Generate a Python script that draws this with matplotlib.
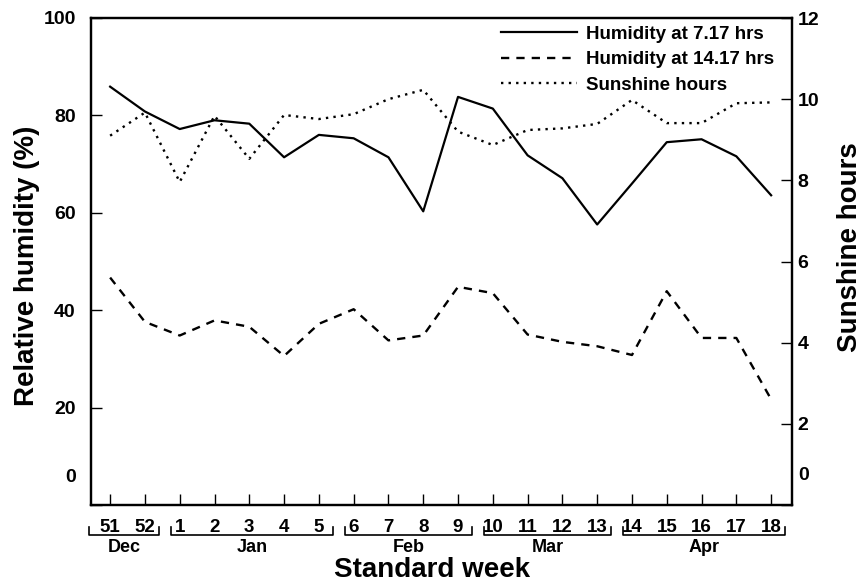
import matplotlib
matplotlib.use("Agg")
import matplotlib.pyplot as plt
import matplotlib.transforms as mtransforms
import numpy as np

plt.rcParams['font.family'] = ['Liberation Sans', 'DejaVu Sans']
plt.rcParams['font.weight'] = 'bold'

# ---- data ----
weeks = ['51', '52', '1', '2', '3', '4', '5', '6', '7', '8', '9',
         '10', '11', '12', '13', '14', '15', '16', '17', '18']
hum_morning = [85.9, 80.8, 77.2, 79.0, 78.3, 71.4, 76.0, 75.3, 71.4, 60.3,
               83.8, 81.4, 71.8, 67.1, 57.6, 66.0, 74.5, 75.1, 71.6, 63.6]
hum_afternoon = [46.7, 37.6, 34.8, 37.9, 36.6, 30.6, 37.2, 40.2, 33.8, 34.8,
                 44.8, 43.5, 35.0, 33.5, 32.6, 30.8, 43.9, 34.3, 34.3, 21.7]
sunshine = [9.10, 9.67, 7.96, 9.59, 8.53, 9.61, 9.51, 9.63, 10.0, 10.23,
            9.20, 8.87, 9.24, 9.28, 9.39, 9.98, 9.41, 9.41, 9.90, 9.92]
months = ['Dec', 'Jan', 'Feb', 'Mar', 'Apr']
month_weeks = [2, 5, 4, 4, 5]
left_ticks = [0, 20, 40, 60, 80, 100]
right_ticks = [0, 2, 4, 6, 8, 10, 12]

x = np.arange(len(weeks))

fig = plt.figure(figsize=(8.65, 5.82), dpi=100)
ax = fig.add_axes([91/865, 1-505/582, 701/865, 487/582])
ax2 = ax.twinx()

l1, = ax.plot(x, hum_morning, color='black', lw=1.6, ls='-',
              label='Humidity at 7.17 hrs')
l2, = ax.plot(x, hum_afternoon, color='black', lw=1.7, ls=(0, (3.5, 3.0)),
              label='Humidity at 14.17 hrs')
l3, = ax2.plot(x, sunshine, color='black', lw=1.7, ls=(0, (1.0, 2.2)),
               label='Sunshine hours')

ax.set_xlim(-0.55, 19.6)
ax.set_ylim(0, 100)
ax2.set_ylim(0, 12)

for a in (ax, ax2):
    for s in a.spines.values():
        s.set_linewidth(1.6)

ax.set_xticks(x)
ax.set_xticklabels(weeks, fontsize=13.5, fontweight='bold')
ax.tick_params(axis='x', direction='in', length=8, width=1.0, pad=10)
ax.set_yticks(left_ticks)
ax.set_yticklabels([str(t) if t != 0 else '' for t in left_ticks],
                   fontsize=14, fontweight='bold')
ax.tick_params(axis='y', direction='in', length=8, width=1.0, pad=11)
ax2.set_yticks(right_ticks)
ax2.set_yticklabels([str(t) if t != 0 else '' for t in right_ticks],
                    fontsize=14, fontweight='bold')
ax2.tick_params(axis='y', direction='in', length=8, width=1.0, pad=4)

# raised zero labels, as in the original
ax.annotate('0', xy=(0, 0), xycoords=('axes fraction', 'data'),
            xytext=(-15, 27), textcoords='offset pixels', ha='right',
            va='center', fontsize=14, fontweight='bold')
ax2.annotate('0', xy=(1, 0), xycoords=('axes fraction', 'data'),
             xytext=(6, 30), textcoords='offset pixels', ha='left',
             va='center', fontsize=14, fontweight='bold')

# month brackets
trans = mtransforms.blended_transform_factory(ax.transData, ax.transAxes)
start = 0
for i, (m, n) in enumerate(zip(months, month_weeks)):
    end = start + n - 1
    left = start - (0.6 if i == 0 else 0.25)
    right = end + 0.4
    yb, yt = -0.061, -0.046
    ax.plot([left, left, right, right], [yt, yb, yb, yt], color='black',
            lw=1.2, transform=trans, clip_on=False)
    ax.text((left + right) / 2, -0.088, m, transform=trans, ha='center',
            va='center', fontsize=13, fontweight='bold')
    start = end + 1

ax.text(0.486, -0.134, 'Standard week', transform=ax.transAxes, ha='center',
        va='center', fontsize=20, fontweight='bold')
ax.set_ylabel('Relative humidity (%)', fontsize=20, fontweight='bold')
ax.yaxis.set_label_coords(-0.073, 0.491)
ax2.set_ylabel('Sunshine hours', fontsize=20, fontweight='bold')
ax2.yaxis.set_label_coords(1.064, 0.53)

leg = ax.legend(handles=[l1, l2, l3], loc='upper right',
                bbox_to_anchor=(0.985, 1.0), frameon=False,
                prop={'size': 13.5, 'weight': 'bold'}, handlelength=4.1,
                handletextpad=0.45, labelspacing=0.45, borderaxespad=0.2,
                borderpad=0.2)

fig.savefig('out.png', dpi=100)
